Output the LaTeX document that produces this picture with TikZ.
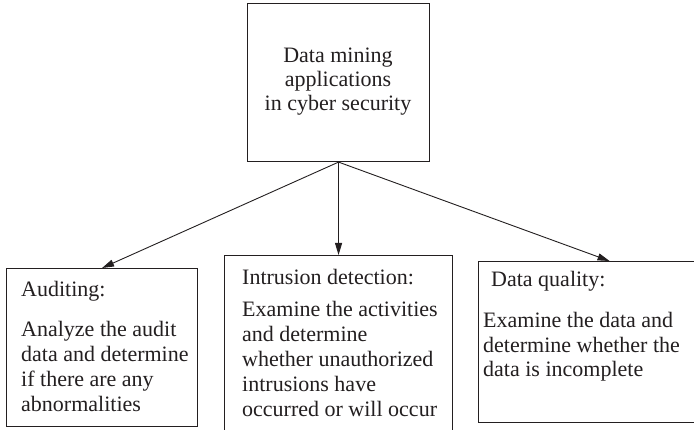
\documentclass[tikz,border=0pt]{standalone}
\usepackage{fontspec}
\setmainfont{Liberation Serif}
\usetikzlibrary{arrows.meta}
\definecolor{ink}{HTML}{231F20}
\begin{document}
\begin{tikzpicture}[x=1pt,y=-1pt,
  panel/.style={draw=ink,line width=1.1pt,inner sep=0pt,anchor=north west},
  txt/.style={text=ink,inner sep=0pt,font=\fontsize{22}{25}\selectfont},
  lline/.style={txt,anchor=base west},
  cline/.style={txt,anchor=base},
  arr/.style={draw=ink,line width=0.9pt,-{Triangle[length=12pt,width=7pt]}}]
\useasboundingbox (0,0) rectangle (694,430);
\clip (0,0) rectangle (694,430);
\fill[white] (0,0) rectangle (694,430);

% boxes
\node[panel,minimum width=182pt,minimum height=158pt] (root) at (247,3) {};
\node[panel,minimum width=191pt,minimum height=158pt] (audit) at (6,268) {};
\node[panel,minimum width=228pt,minimum height=200pt] (intr) at (224,255) {};
\node[panel,minimum width=262pt,minimum height=161pt] (qual) at (478,261) {};

% root text
\node[cline] (r1) at (338,63) {Data mining};
\node[cline] (r2) at (338,87) {applications};
\node[cline] (r3) at (338,111) {in cyber security};

% auditing
\node[lline] (a0) at (21,297) {Auditing:};
\node[lline] (a1) at (21,337) {Analyze the audit};
\node[lline] (a2) at (21,362) {data and determine};
\node[lline] (a3) at (21,387) {if there are any};
\node[lline] (a4) at (21,412) {abnormalities};

% intrusion detection
\node[lline] (i0) at (242,285) {Intrusion detection:};
\node[lline] (i1) at (242,317) {Examine the activities};
\node[lline] (i2) at (242,342) {and determine};
\node[lline] (i3) at (242,367) {whether unauthorized};
\node[lline] (i4) at (242,392) {intrusions have};
\node[lline] (i5) at (242,417) {occurred or will occur};

% data quality
\node[lline] (q0) at (491,287) {Data quality:};
\node[lline] (q1) at (483,328) {Examine the data and};
\node[lline] (q2) at (483,353) {determine whether the};
\node[lline] (q3) at (483,377) {data is incomplete};

% connectors
\draw[arr] (root.south) -- (audit.north);
\draw[arr] (root.south) -- (intr.north);
\draw[arr] (root.south) -- (qual.north);
\end{tikzpicture}
\end{document}
